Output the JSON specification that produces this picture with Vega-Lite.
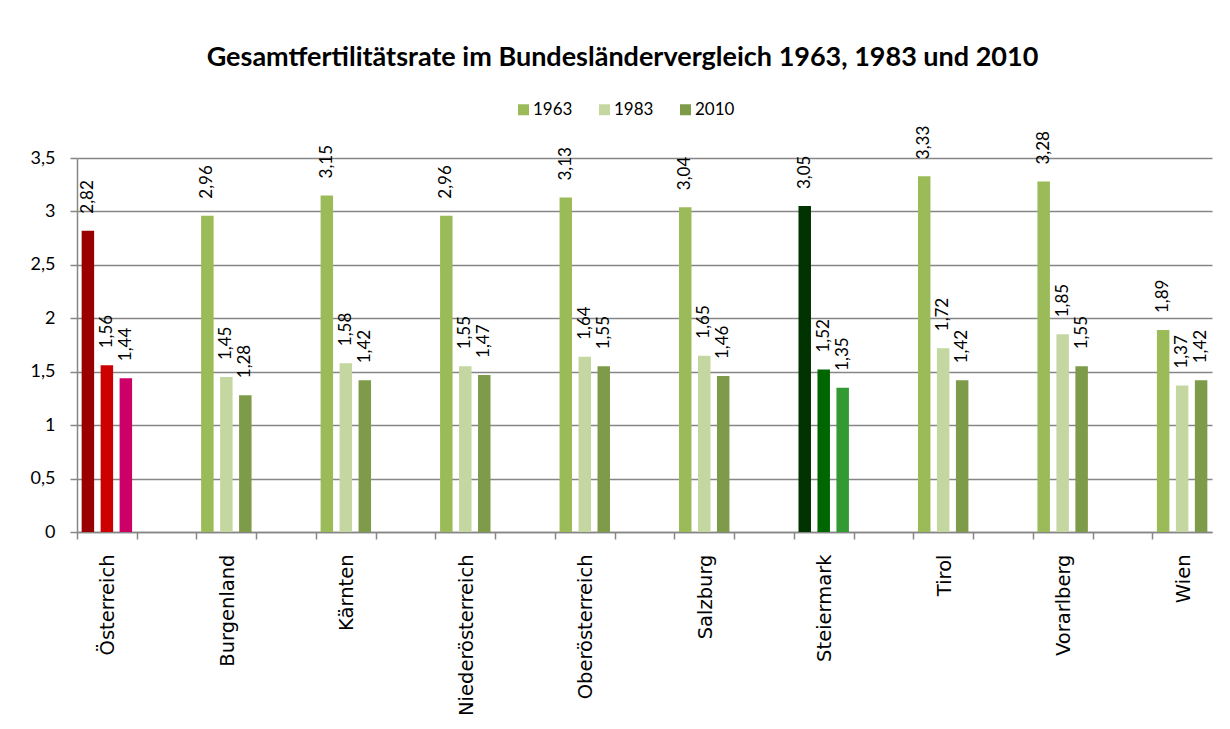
{
  "$schema": "https://vega.github.io/schema/vega-lite/v6.json",
  "width": 1135,
  "height": 374,
  "autosize": {"type": "none"},
  "padding": {"left": 77, "top": 158, "right": 18, "bottom": 197},
  "background": "white",
  "config": {
    "view": {"stroke": null},
    "font": "Lato"
  },
  "title": {
    "text": "Gesamtfertilitätsrate im Bundesländervergleich 1963, 1983 und 2010",
    "font": "Lato",
    "fontSize": 27,
    "fontWeight": "bold",
    "color": "#000000",
    "anchor": "middle",
    "dx": -22,
    "offset": 8,
    "baseline": "alphabetic"
  },
  "data": {
    "values": [
      {"region": "Österreich", "year": "1963", "value": 2.82},
      {"region": "Österreich", "year": "1983", "value": 1.56},
      {"region": "Österreich", "year": "2010", "value": 1.44},
      {"region": "Burgenland", "year": "1963", "value": 2.96},
      {"region": "Burgenland", "year": "1983", "value": 1.45},
      {"region": "Burgenland", "year": "2010", "value": 1.28},
      {"region": "Kärnten", "year": "1963", "value": 3.15},
      {"region": "Kärnten", "year": "1983", "value": 1.58},
      {"region": "Kärnten", "year": "2010", "value": 1.42},
      {"region": "Niederösterreich", "year": "1963", "value": 2.96},
      {"region": "Niederösterreich", "year": "1983", "value": 1.55},
      {"region": "Niederösterreich", "year": "2010", "value": 1.47},
      {"region": "Oberösterreich", "year": "1963", "value": 3.13},
      {"region": "Oberösterreich", "year": "1983", "value": 1.64},
      {"region": "Oberösterreich", "year": "2010", "value": 1.55},
      {"region": "Salzburg", "year": "1963", "value": 3.04},
      {"region": "Salzburg", "year": "1983", "value": 1.65},
      {"region": "Salzburg", "year": "2010", "value": 1.46},
      {"region": "Steiermark", "year": "1963", "value": 3.05},
      {"region": "Steiermark", "year": "1983", "value": 1.52},
      {"region": "Steiermark", "year": "2010", "value": 1.35},
      {"region": "Tirol", "year": "1963", "value": 3.33},
      {"region": "Tirol", "year": "1983", "value": 1.72},
      {"region": "Tirol", "year": "2010", "value": 1.42},
      {"region": "Vorarlberg", "year": "1963", "value": 3.28},
      {"region": "Vorarlberg", "year": "1983", "value": 1.85},
      {"region": "Vorarlberg", "year": "2010", "value": 1.55},
      {"region": "Wien", "year": "1963", "value": 1.89},
      {"region": "Wien", "year": "1983", "value": 1.37},
      {"region": "Wien", "year": "2010", "value": 1.42}
    ]
  },
  "transform": [
    {"calculate": "datum.region === 'Österreich' ? 'A' + datum.year : (datum.region === 'Steiermark' ? 'S' + datum.year : datum.year)", "as": "key"},
    {"calculate": "replace(format(datum.value, '.2f'), '.', ',')", "as": "label"}
  ],
  "encoding": {
    "x": {
      "field": "region",
      "type": "nominal",
      "sort": null,
      "scale": {
        "domain": ["Österreich", "_1", "Burgenland", "_2", "Kärnten", "_3", "Niederösterreich", "_4", "Oberösterreich", "_5", "Salzburg", "_6", "Steiermark", "_7", "Tirol", "_8", "Vorarlberg", "_9", "Wien"],
        "paddingInner": 0,
        "paddingOuter": 0
      },
      "axis": {
        "title": null,
        "labelExpr": "indexof(datum.value, '_') == 0 ? '' : datum.value",
        "labelAngle": -90,
        "labelFont": "DejaVu Sans",
        "labelFontSize": 19.5,
        "labelColor": "#000000",
        "labelPadding": 15,
        "tickOffset": -29.87,
        "labelOffset": 31,
        "tickSize": 7,
        "tickColor": "#868686",
        "tickWidth": 1.5,
        "domainColor": "#868686",
        "domainWidth": 1.5,
        "grid": false,
        "labelOverlap": false
      }
    },
    "xOffset": {
      "field": "year",
      "type": "nominal",
      "scale": {"paddingInner": 0.342, "paddingOuter": 0.245}
    },
    "y": {
      "field": "value",
      "type": "quantitative",
      "scale": {"domain": [0, 3.5], "nice": false},
      "axis": {
        "title": null,
        "values": [0, 0.5, 1, 1.5, 2, 2.5, 3, 3.5],
        "labelExpr": "replace(format(datum.value, '~g'), '.', ',')",
        "labelFont": "Lato",
        "labelFontSize": 18,
        "labelColor": "#000000",
        "labelPadding": 15,
        "tickSize": 7,
        "tickColor": "#868686",
        "tickWidth": 1.5,
        "domainColor": "#868686",
        "domainWidth": 1.5,
        "gridColor": "#868686",
        "gridWidth": 1.5
      }
    }
  },
  "layer": [
    {
      "mark": {"type": "bar"},
      "encoding": {
        "color": {
          "field": "key",
          "type": "nominal",
          "scale": {
            "domain": ["1963", "1983", "2010", "A1963", "A1983", "A2010", "S1963", "S1983", "S2010"],
            "range": ["#9BBB59", "#C4D7A0", "#7E9B49", "#990000", "#CC0000", "#CC0066", "#003300", "#006600", "#339933"]
          },
          "legend": {
            "values": ["1963", "1983", "2010"],
            "title": null,
            "orient": "none",
            "direction": "horizontal",
            "legendX": 438,
            "legendY": -57,
            "symbolType": "square",
            "symbolSize": 121,
            "symbolStrokeWidth": 0,
            "labelFont": "Lato",
            "labelFontSize": 17,
            "labelColor": "#000000",
            "labelOffset": 1,
            "columnPadding": 23,
            "padding": 0
          }
        }
      }
    },
    {
      "mark": {"type": "text", "angle": 270, "align": "left", "baseline": "middle", "dx": 17, "font": "Lato", "fontSize": 17, "color": "#000000"},
      "encoding": {
        "text": {"field": "label", "type": "nominal"}
      }
    }
  ]
}
